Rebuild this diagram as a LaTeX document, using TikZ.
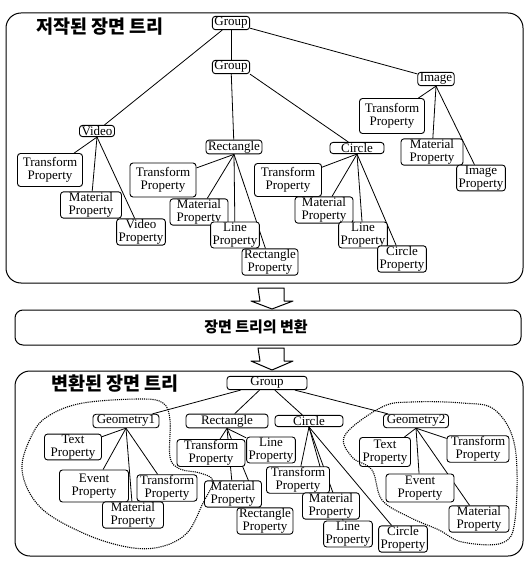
\documentclass[tikz,border=0pt]{standalone}
\usepackage{fontspec}
\setmainfont{Liberation Serif}
\newfontfamily\kor{Noto Sans CJK KR}
\usepackage{tikz}
\usetikzlibrary{backgrounds}
\newcommand{\boxfont}{\rmfamily\fontsize{13}{12.5}\selectfont}
\newcommand{\titlefont}{\kor\bfseries\fontsize{18.5}{18.5}\selectfont}

\begin{document}
\begin{tikzpicture}[x=1pt, y=-1pt, line join=round,
  box/.style={draw, line width=0.9pt, rounded corners=3pt, fill=white,
    align=center, inner xsep=2pt, inner ysep=1pt, font=\boxfont},
  link/.style={line width=0.8pt},
  panel/.style={line width=1pt, rounded corners=15pt},
  blob/.style={densely dotted, line width=1.1pt},
  fatarrow/.style={line width=1pt, fill=white}]
  \useasboundingbox (0,0) rectangle (525,564);
  % Upper panel: authored scene tree
  \draw[panel] (6,13) rectangle (523,283);
  \node[font=\titlefont] (title1) at (100,27) {저작된 장면 트리};
  \node[box] (g0) at (231,23) {Group};
  \node[box] (g1) at (231,67) {Group};
  \node[box] (video) at (97,131) {Video};
  \node[box, minimum width=55pt] (rect) at (234,147) {Rectangle};
  \node[box, minimum width=54pt] (circ) at (357,148) {Circle};
  \node[box] (img) at (436,79) {Image};
  % video children
  \node[box, minimum width=65pt, minimum height=33pt] (vtr) at (50,170) {Transform\\Property};
  \node[box, minimum width=61pt] (vmat) at (91,205) {Material\\Property};
  \node[box] (vvid) at (141,232) {Video\\Property};
  % rectangle children
  \node[box, minimum width=66pt, minimum height=34pt] (rtr) at (163,180) {Transform\\Property};
  \node[box, minimum width=58pt] (rmat) at (199,212) {Material\\Property};
  \node[box] (rline) at (235,235) {Line\\Property};
  \node[box] (rrect) at (270,262) {Rectangle\\Property};
  % circle children
  \node[box, minimum width=67pt, minimum height=33pt] (ctr) at (288,180) {Transform\\Property};
  \node[box, minimum width=58pt] (cmat) at (324,210) {Material\\Property};
  \node[box] (cline) at (363,235) {Line\\Property};
  \node[box] (ccirc) at (402,259) {Circle\\Property};
  % image children
  \node[box, minimum width=65pt, minimum height=35pt] (itr) at (392,116) {Transform\\Property};
  \node[box, minimum width=62pt] (imat) at (432,152) {Material\\Property};
  \node[box] (iimg) at (481,178) {Image\\Property};

  % Middle step
  \draw[fatarrow] (258,288) -- (284,288) -- (284,301) -- (293,301) -- (272,309)
    -- (251,301) -- (260,301) -- cycle;
  \draw[panel, rounded corners=8pt] (15,310) rectangle (521,345);
  \node[font=\kor\bfseries\fontsize{15}{15}\selectfont] (step1) at (256,327) {장면 트리의 변환};
  \draw[fatarrow] (258,348) -- (284,348) -- (284,361) -- (293,361) -- (272,370)
    -- (251,361) -- (260,361) -- cycle;

  % Lower panel: transformed scene tree
  \draw[panel] (15,371) rectangle (523,556);
  \node[font=\titlefont] (title2) at (115,384) {변환된 장면 트리};
  \node[box, minimum width=80pt] (bg) at (267,383) {Group};
  \node[box, minimum width=66pt] (geo1) at (126,421) {Geometry1};
  \node[box, minimum width=82pt] (brect) at (227,421) {Rectangle};
  \node[box, minimum width=68pt] (bcirc) at (309,421) {Circle};
  \node[box, minimum width=65pt] (geo2) at (416,421) {Geometry2};
  % geometry1 children
  \node[box, minimum width=57pt] (gtxt1) at (73,447) {Text\\Property};
  \node[box, minimum width=69pt, minimum height=32pt] (gev1) at (94,486) {Event\\Property};
  \node[box, minimum width=60pt] (gtr1) at (167,488) {Transform\\Property};
  \node[box, minimum width=61pt] (gmat1) at (133,515) {Material\\Property};
  % rectangle children
  \node[box, minimum width=68pt, minimum height=27pt] (btr) at (211,453) {Transform\\Property};
  \node[box] (bline) at (271,450) {Line\\Property};
  \node[box, minimum width=57pt] (bmat) at (233,494) {Material\\Property};
  \node[box] (brr) at (265,521) {Rectangle\\Property};
  % circle children
  \node[box, minimum width=63pt] (btr2) at (298,480) {Transform\\Property};
  \node[box, minimum width=57pt] (bmat2) at (331,506) {Material\\Property};
  \node[box] (bline2) at (348,534) {Line\\Property};
  \node[box] (bcirc2) at (403,539) {Circle\\Property};
  % geometry2 children
  \node[box, minimum width=51pt, minimum height=29pt] (gtxt2) at (385,452) {Text\\Property};
  \node[box, minimum width=62pt] (gtr2) at (478,449) {Transform\\Property};
  \node[box, minimum width=68pt, minimum height=28pt] (gev2) at (420,488) {Event\\Property};
  \node[box, minimum width=60pt, minimum height=25pt] (gmat2) at (479,519) {Material\\Property};

  % Dotted groupings
  \draw[blob] plot[smooth cycle, tension=0.6] coordinates {(33,433) (50,415) (83,403)
    (140,399) (163,403) (170,420) (170,457) (180,469) (200,473) (213,481) (203,503)
    (187,533) (160,547) (127,547) (83,533) (40,507) (22,470)};
  \draw[blob] plot[smooth cycle, tension=0.6] coordinates {(345,435) (382,407) (412,402)
    (462,403) (495,410) (515,447) (515,520) (502,543) (462,542) (439,530) (409,517)
    (382,500) (372,470) (352,457)};

  % Links
  \begin{scope}[on background layer]
    \fill[white] (0,0) rectangle (525,564);
    \draw[link] (g0) -- (video);
    \draw[link] (g0) -- (g1);
    \draw[link] (g0) -- (img);
    \draw[link] (g1) -- (rect);
    \draw[link] (g1.south east) -- (circ);
    \foreach \c in {vtr,vmat,vvid}
      \draw[link] (video.south) -- (\c);
    \foreach \c in {rtr,rmat,rline,rrect}
      \draw[link] (rect.south) -- (\c);
    \foreach \c in {ctr,cmat,cline,ccirc}
      \draw[link] (circ.south) -- (\c);
    \foreach \c in {itr,imat,iimg}
      \draw[link] (img.south) -- (\c);
    \foreach \c in {geo1,brect,bcirc,geo2}
      \draw[link] (bg) -- (\c);
    \foreach \c in {gtxt1,gev1,gtr1,gmat1}
      \draw[link] (geo1.south) -- (\c);
    \foreach \c in {btr,bline,bmat,brr}
      \draw[link] (brect.south) -- (\c);
    \foreach \c in {btr2,bmat2,bline2,bcirc2}
      \draw[link] (bcirc.south) -- (\c);
    \foreach \c in {gtxt2,gtr2,gev2,gmat2}
      \draw[link] (geo2.south) -- (\c);
  \end{scope}
\end{tikzpicture}
\end{document}
